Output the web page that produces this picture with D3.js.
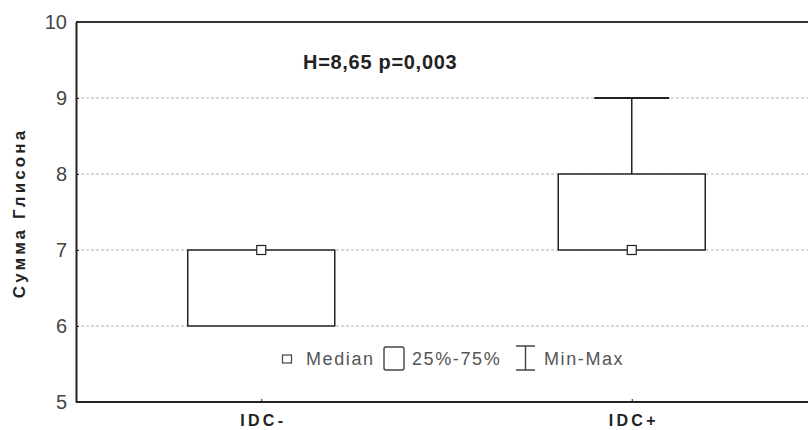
<!DOCTYPE html>
<html><head><meta charset="utf-8">
<script src="https://cdn.jsdelivr.net/npm/d3@7"></script>
<style>body{margin:0;background:#fff;} svg{display:block;}</style>
</head><body>
<svg id="c" width="808" height="430"></svg>
<script>
const categories = ["IDC-", "IDC+"];
const mins    = [6, 7];
const q1s     = [6, 7];
const medians = [7, 7];
const q3s     = [7, 8];
const maxs    = [7, 9];
const yTicks  = [5, 6, 7, 8, 9, 10];
const annotation = "H=8,65 p=0,003";
const yTitle = "Сумма Глисона";
const legendLabels = ["Median", "25%-75%", "Min-Max"];

const svg = d3.select("#c");
const mLeft = 76, mRight = 817, mTop = 22, mBottom = 402;
const x = d3.scalePoint().domain(categories).range([mLeft, mRight]).padding(0.5);
const y = d3.scaleLinear().domain([5, 10]).range([mBottom, mTop]);
const boxW = 147, capW = 75;
const FF = "Liberation Sans, Arial, sans-serif";

// grid
svg.append("g").selectAll("line").data(yTicks.filter(t => t > 5 && t < 10)).join("line")
  .attr("x1", mLeft).attr("x2", 808).attr("y1", d => y(d)).attr("y2", d => y(d))
  .attr("stroke", "#b4b4b4").attr("stroke-width", 1).attr("stroke-dasharray", "3,2");

// frame
svg.append("line").attr("x1", mLeft).attr("x2", 808).attr("y1", mTop).attr("y2", mTop).attr("stroke", "#333").attr("stroke-width", 2);

// y axis
const yAxis = svg.append("g").attr("transform", `translate(${mLeft},0)`)
  .call(d3.axisLeft(y).tickValues(yTicks).tickSize(0).tickPadding(9).tickFormat(d3.format("d")));
yAxis.select(".domain").attr("stroke", "#222").attr("stroke-width", 2);
yAxis.selectAll("text").attr("font-family", FF).attr("font-size", 20).attr("fill", "#444");
yAxis.selectAll(".tick").append("line").attr("x1", 0).attr("x2", 3).attr("stroke", "#222");

// x axis
const xAxis = svg.append("g").attr("transform", `translate(0,${mBottom})`)
  .call(d3.axisBottom(x).tickSize(0).tickPadding(10));
xAxis.select(".domain").attr("d", `M${mLeft},0H808`).attr("stroke", "#222").attr("stroke-width", 2);
xAxis.selectAll("text").attr("font-family", FF).attr("font-size", 16).attr("dy", null).attr("y", 24)
  .attr("font-weight", "bold").attr("fill", "#222").attr("letter-spacing", "3.3px").attr("dx", "1.5px");
xAxis.selectAll(".tick").append("line").attr("y1", 0).attr("y2", -3).attr("stroke", "#222");

const data = categories.map((c, i) => ({c, min: mins[i], q1: q1s[i], med: medians[i], q3: q3s[i], max: maxs[i]}));
const g = svg.append("g").attr("stroke", "#222").attr("stroke-width", 1.5).attr("fill", "none");
data.forEach(d => {
  const cx = x(d.c);
  if (d.max > d.q3) {
    g.append("line").attr("x1", cx).attr("x2", cx).attr("y1", y(d.q3)).attr("y2", y(d.max));
    g.append("line").attr("x1", cx - capW/2).attr("x2", cx + capW/2).attr("y1", y(d.max)).attr("y2", y(d.max)).attr("stroke-width", 2);
  }
  if (d.min < d.q1) {
    g.append("line").attr("x1", cx).attr("x2", cx).attr("y1", y(d.q1)).attr("y2", y(d.min));
    g.append("line").attr("x1", cx - capW/2).attr("x2", cx + capW/2).attr("y1", y(d.min)).attr("y2", y(d.min)).attr("stroke-width", 2);
  }
  g.append("rect").attr("x", cx - boxW/2).attr("y", y(d.q3)).attr("width", boxW).attr("height", y(d.q1) - y(d.q3)).attr("fill", "#fff");
  g.append("rect").attr("x", cx - 4.5).attr("y", y(d.med) - 4.5).attr("width", 9).attr("height", 9).attr("fill", "#fff").attr("stroke-width", 1.2);
});

// annotation
svg.append("text").attr("x", 303).attr("y", 69).text(annotation)
  .attr("font-family", FF).attr("font-size", 20).attr("font-weight", "bold")
  .attr("fill", "#222").attr("letter-spacing", "0.7px");

// y title
svg.append("text").attr("transform", "translate(25,213) rotate(-90)").attr("text-anchor", "middle").text(yTitle)
  .attr("font-family", FF).attr("font-size", 17).attr("font-weight", "bold")
  .attr("fill", "#222").attr("letter-spacing", "3.1px");

// legend
const lg = svg.append("g");
const lf = {"font-family": FF, "font-size": 18, "fill": "#555", "letter-spacing": "1.6px"};
lg.append("rect").attr("x", 282.5).attr("y", 355).attr("width", 9).attr("height", 8).attr("fill", "#fff").attr("stroke", "#444").attr("stroke-width", 1.2);
let t1 = lg.append("text").attr("x", 306).attr("y", 365).text(legendLabels[0]);
lg.append("rect").attr("x", 384).attr("y", 347).attr("width", 20).attr("height", 23).attr("rx", 2).attr("fill", "#fff").attr("stroke", "#444").attr("stroke-width", 1.4);
let t2 = lg.append("text").attr("x", 412).attr("y", 365).text(legendLabels[1]);
lg.append("path").attr("d", "M516,346H535M525.5,346V370M516,370H535").attr("fill", "none").attr("stroke", "#444").attr("stroke-width", 1.4);
let t3 = lg.append("text").attr("x", 544).attr("y", 365).text(legendLabels[2]);
[t1, t2, t3].forEach(t => Object.entries(lf).forEach(([k, v]) => t.attr(k, v)));
</script>
</body></html>
